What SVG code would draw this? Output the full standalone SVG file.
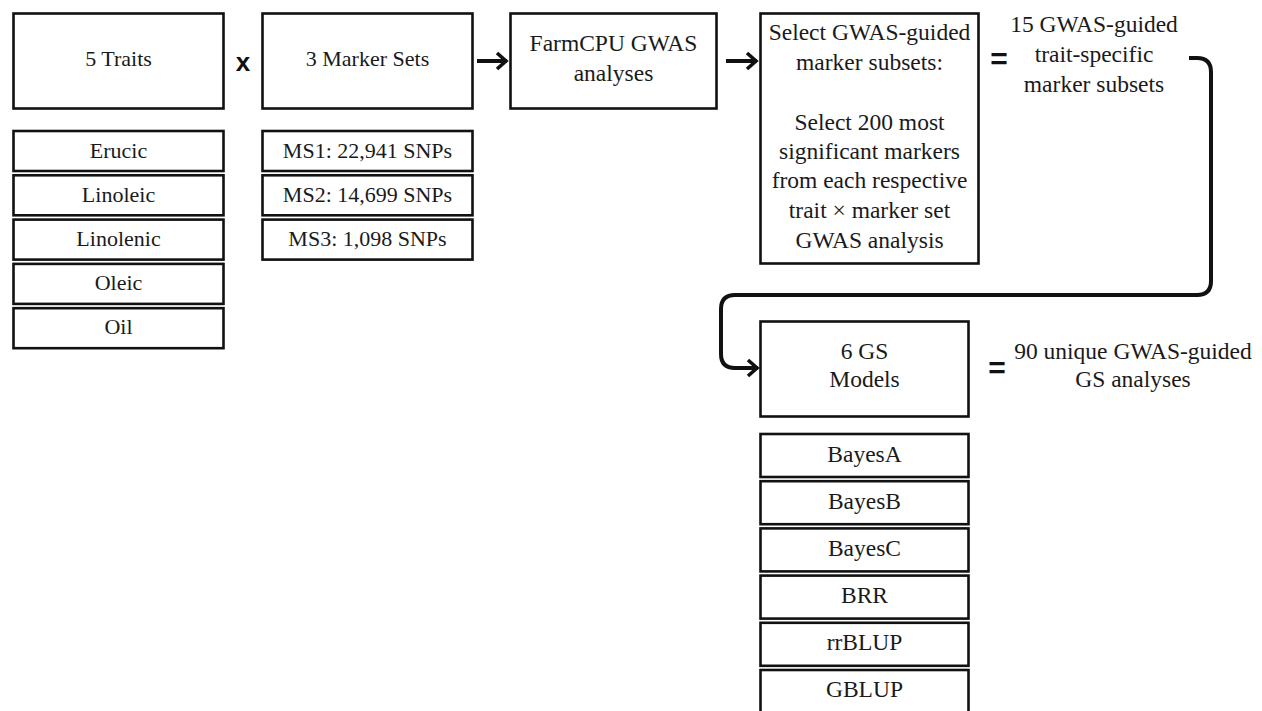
<svg xmlns="http://www.w3.org/2000/svg" width="1262" height="711" viewBox="0 0 1262 711">
<style>
.box{fill:#fff;stroke:#111;stroke-width:2.6}
.t{font-family:"Liberation Serif","Times New Roman",serif;font-size:22px;fill:#1a1a1a;text-anchor:middle}
.r{font-size:23.5px}
.op{font-family:"Liberation Sans",Arial,sans-serif;font-weight:bold;fill:#111;text-anchor:middle}
.conn{fill:none;stroke:#111;stroke-width:4;stroke-linecap:butt}
</style>
<defs>
<marker id="chev" markerUnits="userSpaceOnUse" viewBox="0 0 14 20" refX="12" refY="10" markerWidth="14" markerHeight="20" orient="auto">
<path d="M2,2 L11,10 L2,18" fill="none" stroke="#111" stroke-width="3.6" stroke-linejoin="miter"/>
</marker>
</defs>
<rect width="1262" height="711" fill="#fff"/>

<g id="traits">
<rect class="box" x="13.5" y="13.5" width="210" height="95"/>
<text class="t" x="118.5" y="66">5 Traits</text>
</g>
<g id="trait-list">
<rect class="box" x="13.5" y="131" width="210" height="40"/><text class="t" x="118.5" y="158">Erucic</text>
<rect class="box" x="13.5" y="175.3" width="210" height="40"/><text class="t" x="118.5" y="202">Linoleic</text>
<rect class="box" x="13.5" y="219.6" width="210" height="40"/><text class="t" x="118.5" y="246">Linolenic</text>
<rect class="box" x="13.5" y="263.9" width="210" height="40"/><text class="t" x="118.5" y="290">Oleic</text>
<rect class="box" x="13.5" y="308.2" width="210" height="40"/><text class="t" x="118.5" y="334">Oil</text>
</g>

<g id="times"><text class="op" x="243" y="71" font-size="26">x</text></g>

<g id="markersets">
<rect class="box" x="262.5" y="13.5" width="210" height="95"/>
<text class="t" x="367.5" y="66">3 Marker Sets</text>
</g>
<g id="ms-list">
<rect class="box" x="262.5" y="131" width="210" height="40"/><text class="t" x="367.5" y="158">MS1: 22,941 SNPs</text>
<rect class="box" x="262.5" y="175.3" width="210" height="40"/><text class="t" x="367.5" y="202">MS2: 14,699 SNPs</text>
<rect class="box" x="262.5" y="219.6" width="210" height="40"/><text class="t" x="367.5" y="246">MS3: 1,098 SNPs</text>
</g>

<g id="farmcpu">
<rect class="box" x="510.5" y="13.5" width="206" height="95"/>
<text class="t r" x="613.5" y="51">FarmCPU GWAS</text>
<text class="t r" x="613.5" y="81">analyses</text>
</g>

<g id="select">
<rect class="box" x="760.5" y="13.5" width="218" height="250"/>
<text class="t r" x="869.5" y="40">Select GWAS-guided</text>
<text class="t r" x="869.5" y="70">marker subsets:</text>
<text class="t r" x="869.5" y="130">Select 200 most</text>
<text class="t r" x="869.5" y="159">significant markers</text>
<text class="t r" x="869.5" y="188">from each respective</text>
<text class="t r" x="869.5" y="218">trait × marker set</text>
<text class="t r" x="869.5" y="248">GWAS analysis</text>
</g>

<g id="eq1"><text class="op" x="999" y="69" font-size="30">=</text></g>

<g id="subsets">
<text class="t r" x="1094" y="32">15 GWAS-guided</text>
<text class="t r" x="1094" y="62">trait-specific</text>
<text class="t r" x="1094" y="92">marker subsets</text>
</g>

<g id="gsmodels">
<rect class="box" x="760.5" y="321.5" width="208" height="95"/>
<text class="t r" x="864.5" y="359">6 GS</text>
<text class="t r" x="864.5" y="387">Models</text>
</g>
<g id="model-list">
<rect class="box" x="760.5" y="434" width="208" height="43"/><text class="t r" x="864.5" y="462">BayesA</text>
<rect class="box" x="760.5" y="481.2" width="208" height="43"/><text class="t r" x="864.5" y="509">BayesB</text>
<rect class="box" x="760.5" y="528.4" width="208" height="43"/><text class="t r" x="864.5" y="556">BayesC</text>
<rect class="box" x="760.5" y="575.6" width="208" height="43"/><text class="t r" x="864.5" y="603">BRR</text>
<rect class="box" x="760.5" y="622.8" width="208" height="43"/><text class="t r" x="864.5" y="650">rrBLUP</text>
<rect class="box" x="760.5" y="670" width="208" height="50"/><text class="t r" x="864.5" y="697">GBLUP</text>
</g>

<g id="eq2"><text class="op" x="997" y="378" font-size="30">=</text></g>

<g id="result">
<text class="t r" x="1133" y="359">90 unique GWAS-guided</text>
<text class="t r" x="1133" y="387">GS analyses</text>
</g>

<g id="connectors">
<path class="conn" d="M477,61 H507" marker-end="url(#chev)"/>
<path class="conn" d="M726,61 H757" marker-end="url(#chev)"/>
<path class="conn" d="M1189,58 H1197 Q1211,58 1211,72 V281 Q1211,295 1197,295 H735 Q721,295 721,309 V354 Q721,368 735,368 H758" marker-end="url(#chev)"/>
</g>
</svg>
